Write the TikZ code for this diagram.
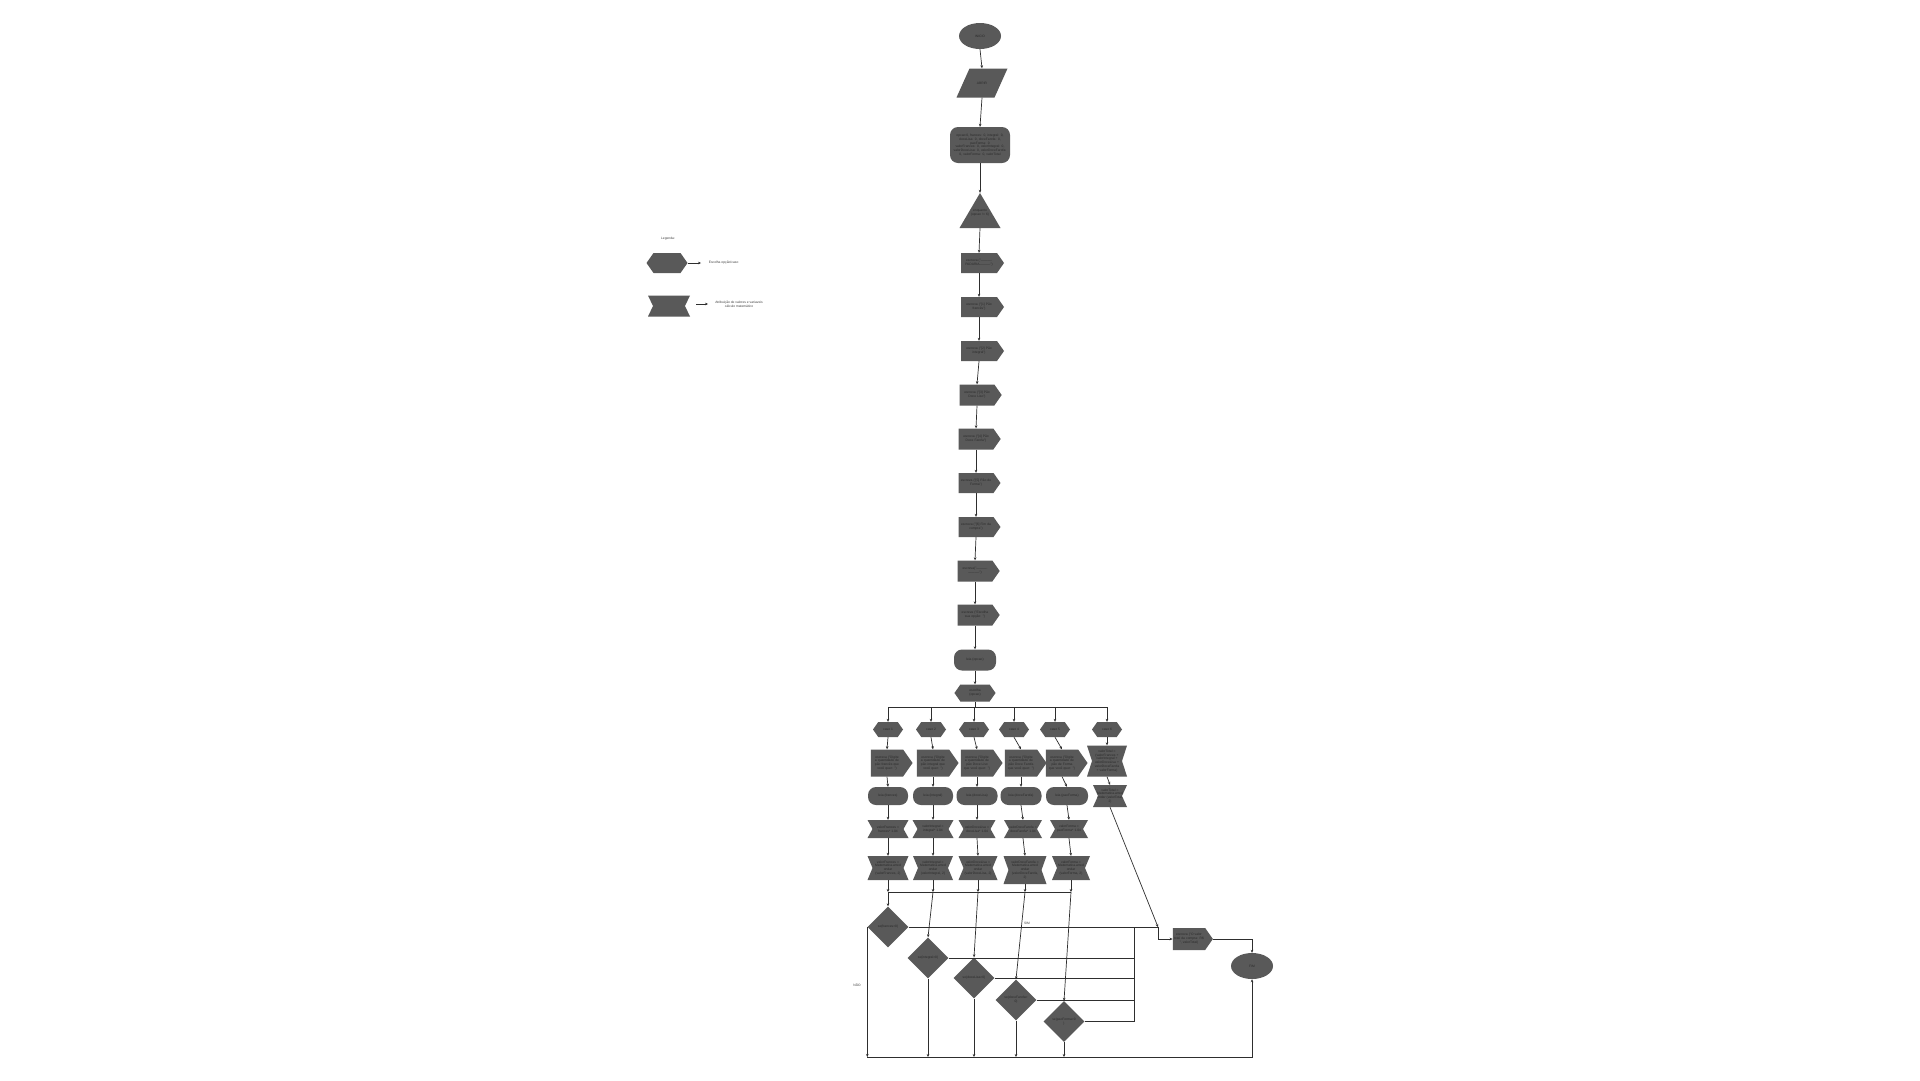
\documentclass[tikz,border=0pt]{standalone}
\usepackage{fontspec}
\setmainfont{Liberation Sans}
\usetikzlibrary{shapes.geometric,shapes.symbols,shapes.misc,arrows.meta}
\definecolor{shp}{HTML}{595959}
\definecolor{txt}{HTML}{2A2A2A}
\definecolor{ln}{HTML}{2E2E2E}
\newcommand{\tinyf}{\fontsize{3.3}{3.9}\selectfont}
\tikzset{
  base/.style={inner sep=0.6pt, font=\tinyf, text=txt, align=center},
  term/.style={base, ellipse, fill=shp, minimum width=42pt, minimum height=26pt},
  roundbox/.style={base, rectangle, rounded corners=8pt, fill=shp},
  disp/.style={base, signal, signal to=east, signal pointer angle=110, fill=shp},
  hexa/.style={base, signal, signal to=east and west, signal pointer angle=110, fill=shp},
  bowtie/.style={base, rectangle, path picture={\fill[shp] (path picture bounding box.north west) -- (path picture bounding box.north east) -- ([xshift=-5pt]path picture bounding box.east) -- (path picture bounding box.south east) -- (path picture bounding box.south west) -- ([xshift=5pt]path picture bounding box.west) -- cycle;}},
  para/.style={base, rectangle, path picture={\fill[shp] (path picture bounding box.south west) -- ([xshift=-13pt]path picture bounding box.south east) -- (path picture bounding box.north east) -- ([xshift=13pt]path picture bounding box.north west) -- cycle;}},
  tri/.style={base, rectangle, path picture={\fill[shp] (path picture bounding box.south west) -- (path picture bounding box.south east) -- (path picture bounding box.north) -- cycle;}},
  dec/.style={base, diamond, fill=shp, minimum width=41pt, minimum height=41pt, aspect=1},
  ln/.style={draw=ln, line width=0.7pt},
  arr/.style={ln, -{Stealth[length=3pt,width=2.6pt]}},
  lbl/.style={base, text=black!75}
}
\begin{document}
\begin{tikzpicture}[x=1pt,y=-1pt]
\fill[white] (0,0) rectangle (1920,1080);
\useasboundingbox (0,0) rectangle (1920,1080);

% main column
\node[term] (n1) at (980,36) {INICIO};
\node[para, minimum width=51pt, minimum height=29pt] (n2) at (982,83) {ABRIR};
\node[roundbox, minimum width=60pt, minimum height=36pt, text width=58pt] (n3) at (980,145) {opcao:0, frances: 0, integral: 0,\\ doceLisa: 0, doceFarofa: 0,\\ paoForma: 0\\ valorFrances: 0, valorIntegral: 0,\\ valorDoceLisa: 0, valorDoceFarofa:\\ 0, valorForma: 0, valorTotal};
\node[tri, minimum width=41pt, minimum height=35pt, text width=30pt] (t) at (980,210.5) {\\[3pt]enquanto\\(opcao != 6)};
\node[disp, minimum width=43pt, minimum height=20pt, text width=32pt] (e1) at (979,263) {escreva ("----------\\PADARIA----------")};
\node[disp, minimum width=43pt, minimum height=20pt, text width=32pt] (e2) at (979,307) {escreva ("[1] Pão\\francês")};
\node[disp, minimum width=43pt, minimum height=20pt, text width=32pt] (e3) at (979,351) {escreva ("[2] Pão\\integral")};
\node[disp, minimum width=42pt, minimum height=21pt, text width=32pt] (e4) at (977,395) {escreva ("[3] Pão\\Doce Liso")};
\node[disp, minimum width=42pt, minimum height=21pt, text width=32pt] (e5) at (976,439) {escreva ("[4] Pão\\Doce Farofa")};
\node[disp, minimum width=42pt, minimum height=20pt, text width=32pt] (e6) at (976,483) {escreva ("[5] Pão de\\Forma")};
\node[disp, minimum width=42pt, minimum height=20pt, text width=32pt] (e7) at (976,527) {escreva ("[6] Fim da\\compra")};
\node[disp, minimum width=42pt, minimum height=21pt, text width=32pt] (e8) at (975,571) {escreva("----------\\----------")};
\node[disp, minimum width=42pt, minimum height=21pt, text width=32pt] (e9) at (975,615) {escreva ("Escolha\\sua opção: ")};
\node[roundbox, minimum width=42pt, minimum height=21pt] (lo) at (975,660) {leia (opcao)};
\node[hexa, minimum width=41pt, minimum height=17pt, text width=28pt] (esc) at (975,693) {escolha\\(opcao)};

\foreach \a/\b in {n1/n2,n2/n3,n3/t,t/e1,e1/e2,e2/e3,e3/e4,e4/e5,e5/e6,e6/e7,e7/e8,e8/e9,e9/lo,lo/esc}
  \draw[arr] (\a.south) -- (\b.north);

% bus
\coordinate (bus) at (975,707);
\node[hexa, minimum width=30pt, minimum height=15pt] (c1) at (888,729.5) {caso 1};
\node[hexa, minimum width=30pt, minimum height=15pt] (c2) at (931,729.5) {caso 2};
\node[hexa, minimum width=30pt, minimum height=15pt] (c3) at (974,729.5) {caso 3};
\node[hexa, minimum width=30pt, minimum height=15pt] (c4) at (1014,729.5) {caso 4};
\node[hexa, minimum width=30pt, minimum height=15pt] (c5) at (1055,729.5) {caso 5};
\node[hexa, minimum width=30pt, minimum height=15pt] (c6) at (1107,729.5) {caso 6};
\draw[ln] (esc.south) -- (bus);
\draw[ln] (c1.north |- bus) -- (c6.north |- bus);
\foreach \c in {c1,c2,c3,c4,c5,c6}
  \draw[arr] (\c.north |- bus) -- (\c.north);

% escreva row
\node[disp, minimum width=40pt, minimum height=27pt, text width=31pt] (w1) at (887,763) {escreva ("Digite a quantidade de pão francês que você quer: ")};
\node[disp, minimum width=40pt, minimum height=27pt, text width=31pt] (w2) at (933,763) {escreva ("Digite a quantidade de pão integral que você quer: ")};
\node[disp, minimum width=40pt, minimum height=27pt, text width=31pt] (w3) at (977,763) {escreva ("Digite a quantidade de pão Doce Liso que você quer: ")};
\node[disp, minimum width=40pt, minimum height=27pt, text width=31pt] (w4) at (1021,763) {escreva ("Digite a quantidade de pão Doce Farofa que você quer: ")};
\node[disp, minimum width=40pt, minimum height=27pt, text width=31pt] (w5) at (1062,763) {escreva ("Digite a quantidade de pão de Forma que você quer: ")};
\node[bowtie, minimum width=40pt, minimum height=31pt, text width=30pt] (t6a) at (1107,761) {valorTotal = (valorFrances + valorIntegral + valorDoceLisa + valorDoceFarofa + valorForma)};

% leia row
\node[roundbox, minimum width=40pt, minimum height=18pt] (l1) at (888,796) {leia (frances)};
\node[roundbox, minimum width=40pt, minimum height=18pt] (l2) at (933,796) {leia (integral)};
\node[roundbox, minimum width=41pt, minimum height=18pt] (l3) at (977,796) {leia (doceLisa)};
\node[roundbox, minimum width=41pt, minimum height=18pt] (l4) at (1021,796) {leia (doceFarofa)};
\node[roundbox, minimum width=42pt, minimum height=18pt] (l5) at (1067,796) {leia (paoForma)};
\node[bowtie, minimum width=34pt, minimum height=22pt, text width=27pt] (t6b) at (1110,796) {valorTotal =\\Matematica.arred\\ondar (valorTotal,\\2)};

% valor row
\node[bowtie, minimum width=41pt, minimum height=18pt, text width=30pt] (a1) at (888,829) {valorFrances =\\frances* 1.04};
\node[bowtie, minimum width=41pt, minimum height=18pt, text width=30pt] (a2) at (933,829) {valorIntegral =\\integral* 1.04};
\node[bowtie, minimum width=37pt, minimum height=18pt, text width=30pt] (a3) at (977,829) {valorDoceLisa =\\doceLisa* 1.04};
\node[bowtie, minimum width=38pt, minimum height=18pt, text width=30pt] (a4) at (1023,829) {valorDoceFarofa =\\doceFarofa* 1.04};
\node[bowtie, minimum width=38pt, minimum height=18pt, text width=30pt] (a5) at (1069,829) {valorForma =\\paoForma* 1.04};

% arredondar row
\node[bowtie, minimum width=41pt, minimum height=24pt, text width=31pt] (r1) at (888,868) {valorFrances =\\Matematica.arred\\ondar\\(valorFrances, 2)};
\node[bowtie, minimum width=40pt, minimum height=24pt, text width=31pt] (r2) at (933,868) {valorIntegral =\\Matematica.arred\\ondar\\(valorIntegral, 2)};
\node[bowtie, minimum width=39pt, minimum height=24pt, text width=31pt] (r3) at (978,868) {valorDoceLisa =\\Matematica.arred\\ondar\\(valorDoceLisa, 2)};
\node[bowtie, minimum width=43pt, minimum height=28pt, text width=33pt] (r4) at (1025,870) {valorDoceFarofa =\\Matematica.arred\\ondar\\(valorDoceFarofa,\\2)};
\node[bowtie, minimum width=38pt, minimum height=24pt, text width=31pt] (r5) at (1071,868) {valorForma =\\Matematica.arred\\ondar\\(valorForma, 2)};

\foreach \i in {1,...,5}{
  \draw[arr] (c\i.south) -- (w\i.north);
  \draw[arr] (w\i.south) -- (l\i.north);
  \draw[arr] (l\i.south) -- (a\i.north);
  \draw[arr] (a\i.south) -- (r\i.north);
}
\draw[arr] (c6.south) -- (t6a.north);
\draw[arr] (t6a.south) -- (t6b.north);

% merge
\coordinate (mrg) at (0,892);
\draw[ln] (r1.south |- mrg) -- (r5.south |- mrg);
\foreach \i in {1,...,5}
  \draw[arr] (r\i.south) -- (r\i.south |- mrg);

% decisions
\node[dec, text width=26pt] (d1) at (888,927) {se(frances>0)};
\node[dec, text width=26pt] (d2) at (928,958) {se(integral>0)};
\node[dec, text width=26pt] (d3) at (974,978) {se(doceLisa>0)};
\node[dec, text width=26pt] (d4) at (1016,1000) {se(doceFarofa>\\0)};
\node[dec, text width=26pt] (d5) at (1064,1021.5) {se(paoForma>0\\)};
\foreach \i in {1,...,5}
  \draw[arr] (r\i.south |- mrg) -- (d\i.north);

% final nodes
\node[disp, minimum width=40pt, minimum height=22pt, text width=31pt] (fin) at (1189,939) {escreva ("O valor\\total da compra: R\$\\", valorTotal)};
\node[term] (fim) at (1252,966) {FIM};

\coordinate (j) at (1158,927);
\coordinate (col) at (1134,0);
\coordinate (bot) at (0,1057);

\draw[ln] (d1.east) -- (j);
\node[lbl] (sim) at (1027,923) {SIM};
\draw[arr] (t6b.south) -- (j);
\draw[arr] (j) |- (fin.west);
\foreach \i in {2,...,5}
  \draw[ln] (d\i.east) -- (col |- d\i.east);
\draw[ln] (col |- d5.east) -- (col |- d1.east);
\draw[arr] (fin.east) -| (fim.north);

\draw[arr] (d1.west) -- (d1.west |- bot);
\foreach \i in {2,...,5}
  \draw[arr] (d\i.south) -- (d\i.south |- bot);
\draw[arr] (d1.west |- bot) -- (fim.south |- bot) -- (fim.south);
\node[lbl] (nao) at (857,985) {NÃO};

% legend
\node[lbl] (leg) at (668,239) {Legenda:};
\node[hexa, minimum width=41pt, minimum height=20pt] (lh) at (667,263) {};
\coordinate (lha) at (701,263);
\draw[arr] (lh.east) -- (lha);
\node[lbl, anchor=west] (lht) at (708,263) {Escolha opção/caso};
\node[bowtie, minimum width=42pt, minimum height=21pt] (lb) at (669,306) {};
\coordinate (lbs) at (696,304);
\coordinate (lbe) at (708,304);
\draw[arr] (lbs) -- (lbe);
\node[lbl] (lbt) at (739,304) {Atribuição de valores e variaveis\\cálculo matemático};
\end{tikzpicture}
\end{document}
